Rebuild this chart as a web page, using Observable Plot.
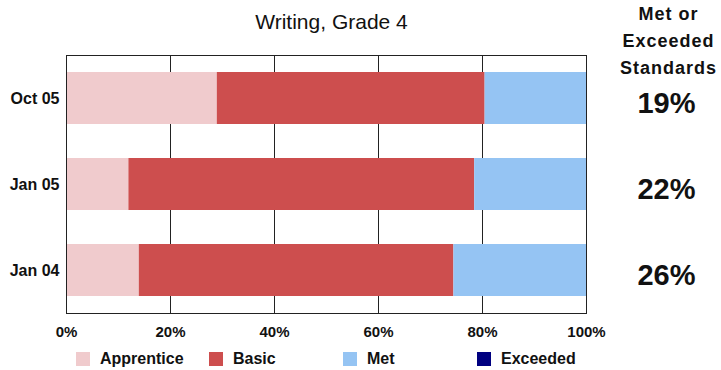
<!DOCTYPE html>
<html>
<head>
<meta charset="utf-8">
<script src="https://cdn.jsdelivr.net/npm/d3@7"></script>
<script src="https://cdn.jsdelivr.net/npm/@observablehq/plot@0.6"></script>
<style>
  html, body { margin: 0; padding: 0; background: #fff; }
  #wrap { position: relative; width: 721px; height: 370px; font-family: "Liberation Sans", Arial, sans-serif; }
  #legend { position: absolute; left: 0; top: 350px; width: 721px; height: 18px; }
  .item { position: absolute; top: 0; display: flex; align-items: center; font-weight: bold; font-size: 16px; color: #111; }
  .sw { width: 14px; height: 14px; margin-right: 10px; }
</style>
</head>
<body>
<div id="wrap"><div id="chart"></div><div id="legend"></div></div>
<script>
const title = "Writing, Grade 4";
const sideHeader = "Met or\nExceeded\nStandards";
const periods = ["Oct 05", "Jan 05", "Jan 04"];
const levels = ["Apprentice", "Basic", "Met", "Exceeded"];
const levelColors = ["#f0cbcd", "#cd4e4e", "#95c4f3", "#000080"];
const apprentice = [29, 12, 14];
const basic = [51.5, 66.5, 60.5];
const met = [19.5, 21.5, 25.5];
const exceeded = [0, 0, 0];
const metOrExceeded = ["19%", "22%", "26%"];
const xTicks = [0, 20, 40, 60, 80, 100];
const gridTicks = [20, 40, 60, 80];

const series = [apprentice, basic, met, exceeded];
const data = [];
periods.forEach((p, i) => levels.forEach((l, j) => data.push({period: p, level: l, value: series[j][i]})));
const side = periods.map((p, i) => ({period: p, label: metOrExceeded[i]}));

const chart = Plot.plot({
  width: 721,
  height: 370,
  marginLeft: 66,
  marginRight: 135,
  marginTop: 55,
  marginBottom: 57,
  style: {fontFamily: "'Liberation Sans', Arial, sans-serif", color: "#111", background: "#fff"},
  x: {domain: [0, 100]},
  y: {domain: periods, paddingInner: 0.4, paddingOuter: 0.2},
  color: {domain: levels, range: levelColors},
  marks: [
    Plot.gridX(gridTicks, {stroke: "#222", strokeOpacity: 1, strokeWidth: 1}),
    Plot.barX(data, {x: "value", y: "period", fill: "level"}),
    Plot.frame({stroke: "#222", strokeWidth: 1}),
    Plot.axisX(xTicks, {tickSize: 0, tickPadding: 13, tickFormat: d => d + "%", fontSize: 15, fontWeight: "bold", label: null}),
    Plot.axisY({tickSize: 0, tickPadding: 7, fontSize: 16, fontWeight: "bold", label: null}),
    Plot.text([title], {frameAnchor: "top", dx: 5, dy: -41, fontSize: 21}),
    Plot.text([sideHeader], {frameAnchor: "top-right", dx: 82, dy: -55, textAnchor: "middle", fontSize: 18, fontWeight: "bold", lineHeight: 1.5}),
    Plot.text(side, {x: () => 100, y: "period", text: "label", dx: 80, dy: 5, fontSize: 29, fontWeight: "bold", textAnchor: "middle"})
  ]
});
document.getElementById("chart").appendChild(chart);
chart.querySelectorAll("text").forEach(t => { if (t.textContent.includes("Standards")) t.style.letterSpacing = "1px"; });

const legend = document.getElementById("legend");
const lefts = [76, 209, 343, 477];
levels.forEach((l, i) => {
  const it = document.createElement("div");
  it.className = "item";
  it.style.left = lefts[i] + "px";
  const sw = document.createElement("div");
  sw.className = "sw";
  sw.style.background = levelColors[i];
  const tx = document.createElement("span");
  tx.textContent = l;
  it.appendChild(sw); it.appendChild(tx);
  legend.appendChild(it);
});
</script>
</body>
</html>
